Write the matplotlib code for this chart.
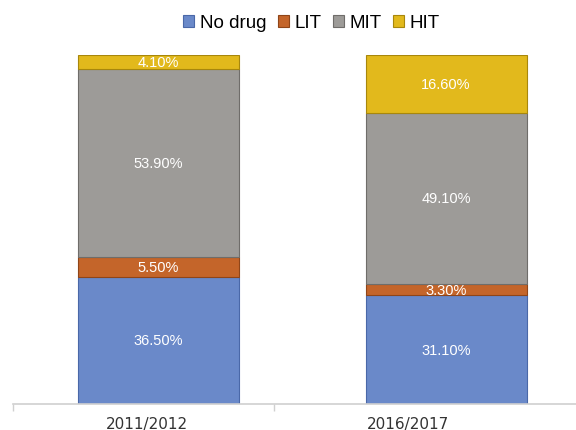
import matplotlib
matplotlib.use("Agg")
import matplotlib.pyplot as plt
import numpy as np

# ─── Data ─────────────────────────────────────────────────────────────────────
periods = ["2011/2012", "2016/2017"]
series = ["No drug", "LIT", "MIT", "HIT"]
no_drug = [36.5, 31.1]
lit = [5.5, 3.3]
mit = [53.9, 49.1]
hit = [4.1, 16.6]

colors = ["#6a89c9", "#c4652a", "#9d9b98", "#e2b91c"]
edges = ["#4a68a8", "#8f4518", "#6f6d6a", "#a8870c"]

plt.rcParams.update({
    "font.family": ["Liberation Sans", "DejaVu Sans"],
})

fig = plt.figure(figsize=(5.76, 4.31), dpi=100)
ax = fig.add_axes([13 / 576, 1 - 405 / 431, 1 - 13 / 576, (405 - 56) / 431])

x = np.arange(len(periods))
width = 0.56
bottom = np.zeros(len(periods))
for name, vals, c, ec in zip(series, [no_drug, lit, mit, hit], colors, edges):
    vals = np.array(vals)
    bars = ax.bar(x, vals, width, bottom=bottom, color=c, edgecolor=ec,
                  linewidth=0.8, label=name, zorder=2)
    for b, v, y0 in zip(bars, vals, bottom):
        ax.text(b.get_x() + b.get_width() / 2, y0 + v / 2, f"{v:.2f}%",
                ha="center", va="center", color="white", fontsize=10.5)
    bottom += vals

ax.set_ylim(0, 100)
ax.set_xlim(-0.506, 1.452)

for s in ["top", "right", "left"]:
    ax.spines[s].set_visible(False)
ax.spines["bottom"].set_color("#d0d0d0")
ax.spines["bottom"].set_linewidth(1.2)
ax.set_yticks([])

# category labels sit slightly left of the bars, as in the source
ax.set_xticks([-0.04, 0.868])
ax.set_xticklabels(periods, fontsize=11, color="#333333", family="DejaVu Sans")
ax.tick_params(axis="x", length=0, pad=8.5)
ax.set_xticks([-0.506, 0.40], minor=True)
ax.tick_params(axis="x", which="minor", length=5, color="#d0d0d0", width=1)

ax.legend(loc="center", bbox_to_anchor=(0.53, 1.092), ncol=4, frameon=False,
          fontsize=13.5, handlelength=0.6, handleheight=0.6, handletextpad=0.3,
          columnspacing=0.6, borderaxespad=0)

fig.savefig("out.png", dpi=100)
